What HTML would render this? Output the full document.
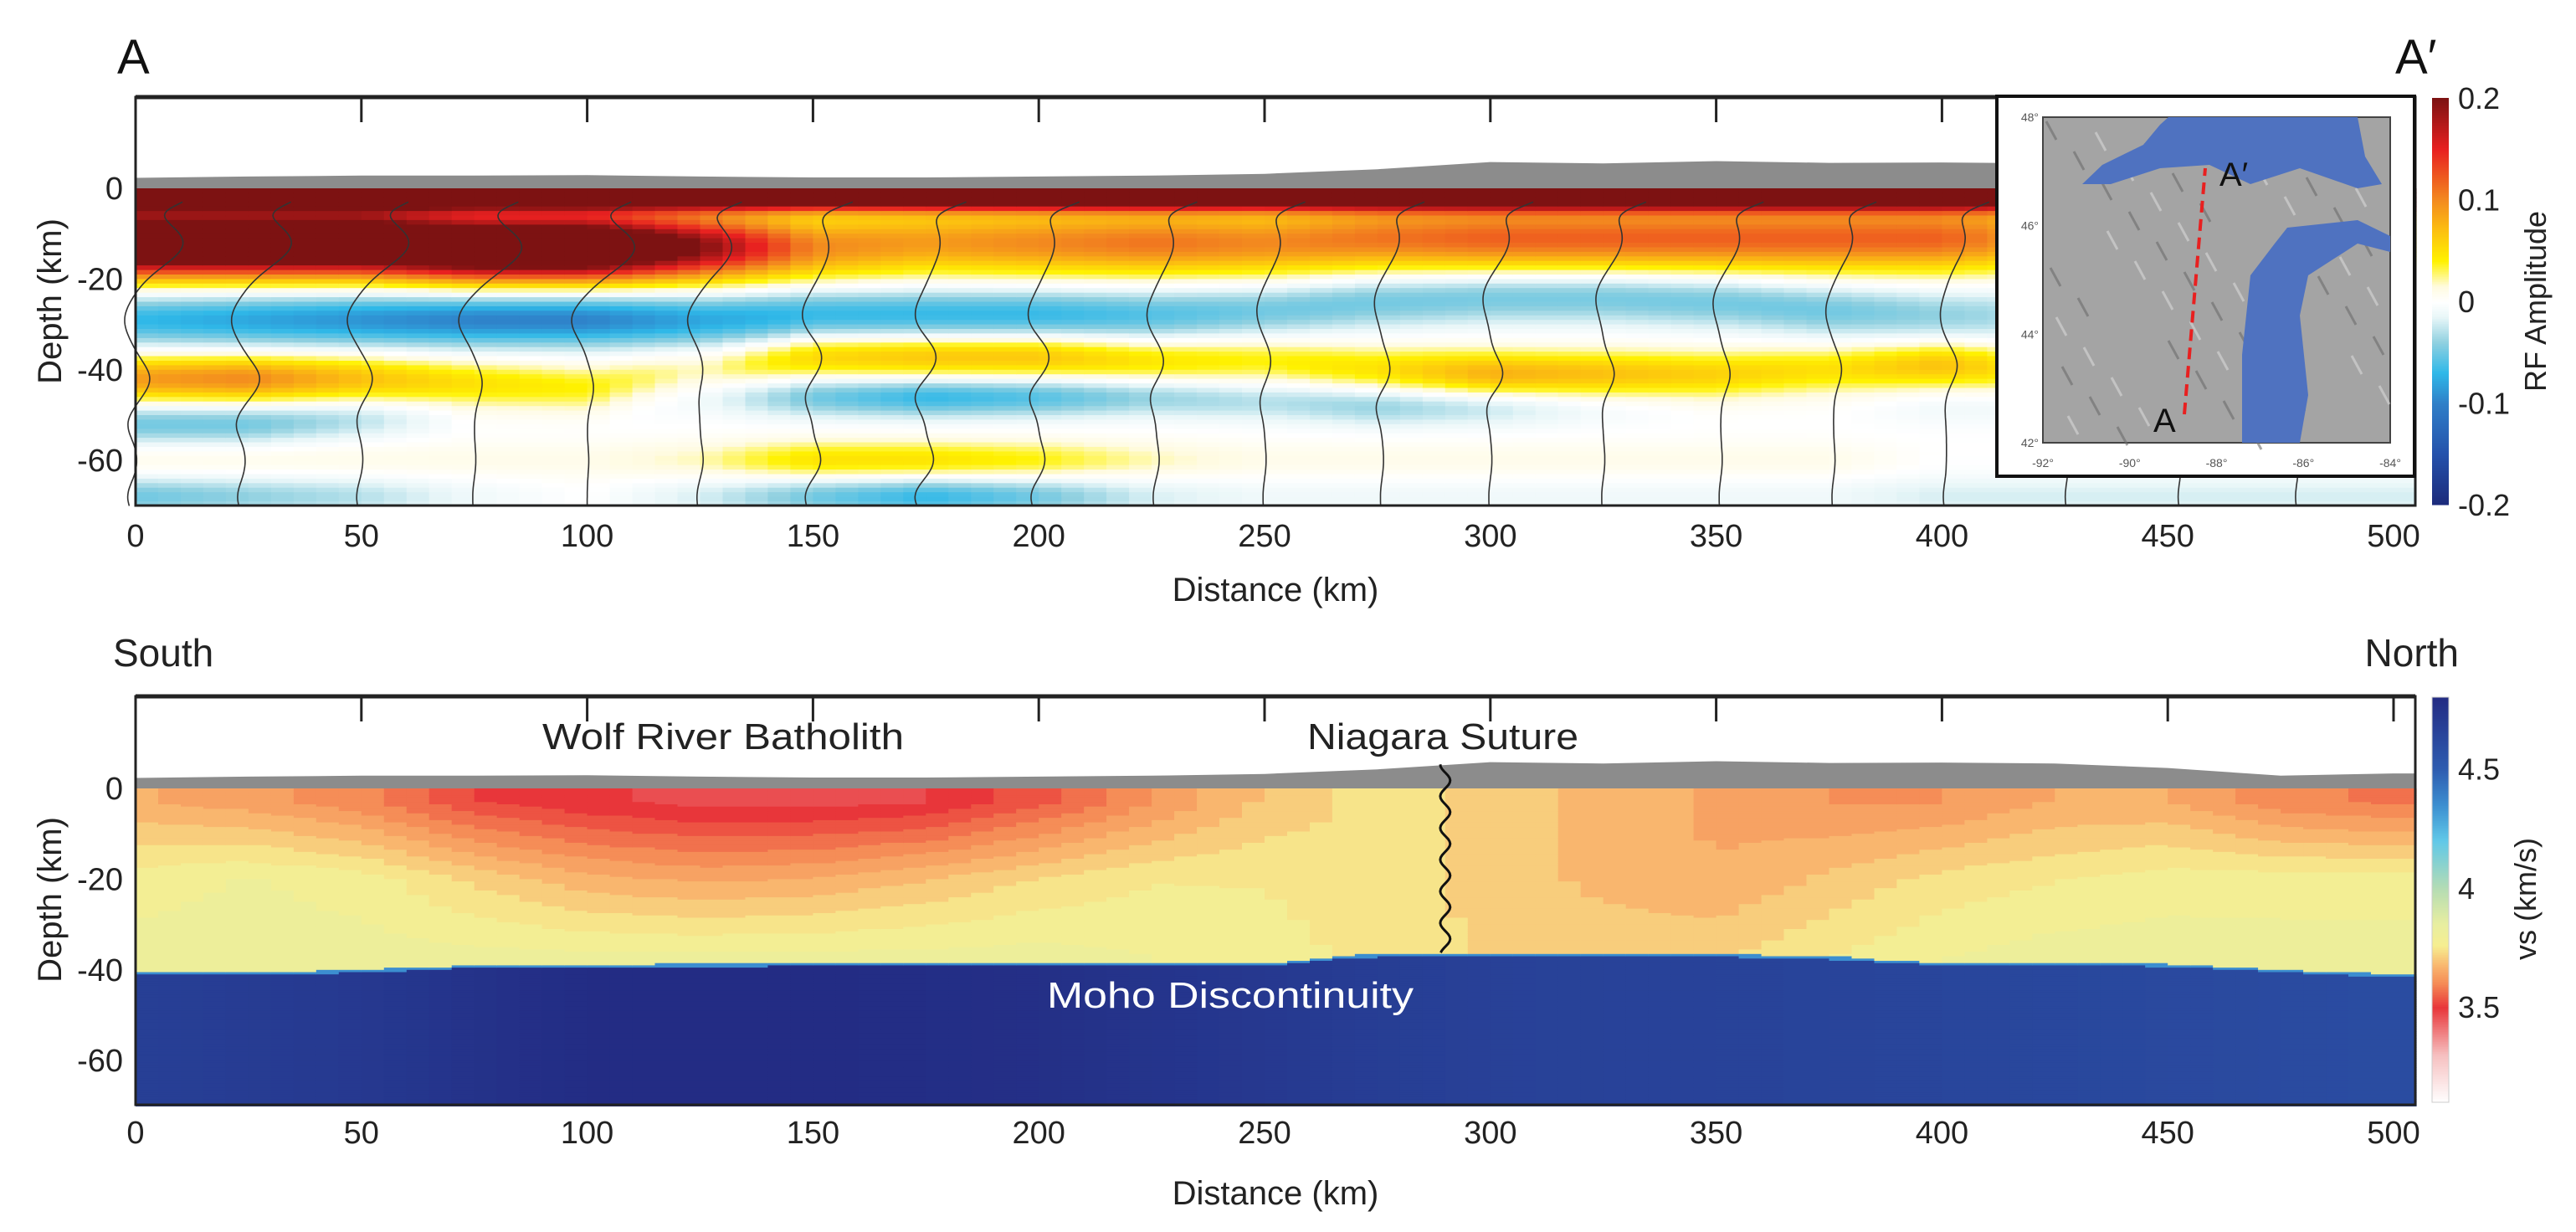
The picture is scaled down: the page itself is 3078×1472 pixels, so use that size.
<!DOCTYPE html>
<html><head><meta charset="utf-8"><style>
html,body{margin:0;padding:0;background:#fff;}
svg{display:block;font-family:"Liberation Sans",sans-serif;}
</style></head><body>
<svg id="fig" width="3078" height="1472" viewBox="0 0 3078 1472" xmlns="http://www.w3.org/2000/svg">
<g id="topPanel"></g>
<g id="botPanel"></g>
</svg>
<script>
// ---------- data ----------
const dist = [0,25,50,75,100,125,150,175,200,225,250,275,300,325,350,375,400,425,450,475,500];
const elevation = [2.3,2.6,2.8,2.8,2.9,2.6,2.4,2.4,2.6,2.8,3.2,4.2,5.8,5.5,6.0,5.6,5.7,5.5,4.5,2.8,3.3];
// RF layers
const surfAmp = [0.3,0.3,0.3,0.3,0.3,0.3,0.3,0.3,0.3,0.3,0.3,0.3,0.3,0.3,0.3,0.3,0.3,0.3,0.3,0.3,0.3];
const posUpperAmp = [0.3,0.3,0.3,0.3,0.3,0.2,0.1,0.09,0.1,0.11,0.1,0.11,0.12,0.12,0.12,0.12,0.12,0.08,0.06,0.05,0.05];
const posUpperDepth = [-12,-12,-12,-13,-13,-13,-13,-12,-12,-12,-12,-11,-11,-11,-11,-11,-11,-11,-11,-11,-11];
const negAmp = [-0.07,-0.08,-0.09,-0.1,-0.1,-0.08,-0.07,-0.07,-0.07,-0.06,-0.05,-0.05,-0.05,-0.05,-0.05,-0.05,-0.04,-0.03,-0.03,-0.03,-0.03];
const negDepth = [-29,-29,-29,-29,-29,-29,-28,-28,-28,-28,-27,-25,-24,-24,-25,-27,-28,-28,-28,-28,-28];
const pos40Amp = [0.09,0.1,0.07,0.05,0.04,0.02,0.06,0.07,0.07,0.05,0.04,0.05,0.08,0.07,0.06,0.05,0.07,0.04,0.02,0.01,0.01];
const pos40Depth = [-42,-42,-42,-43,-44,-40,-37,-37,-37,-38,-38,-40,-41,-41,-41,-40,-39,-40,-40,-40,-40];
const neg50Amp = [-0.05,-0.05,-0.03,0,0,-0.01,-0.05,-0.07,-0.06,-0.04,-0.03,-0.04,-0.03,-0.01,0,0,-0.01,-0.01,0,0,0];
const neg50Depth = [-52,-52,-51,-50,-48,-46,-46,-46,-46,-46,-47,-48,-48,-48,-48,-48,-48,-48,-48,-48,-48];
const pos60Amp = [0.01,0.01,0.01,0.01,0.01,0.02,0.05,0.05,0.04,0.02,0.01,0.01,0.01,0.01,0.01,0.01,0,0,0,0,0];
const neg67Amp = [-0.05,-0.04,-0.03,-0.01,0,-0.02,-0.05,-0.07,-0.05,-0.02,-0.01,-0.01,-0.01,-0.01,-0.01,-0.01,-0.02,-0.02,-0.02,-0.02,-0.02];
const stations = [0,24,50,75,100,125,150,175,200,226,250,276,300,325,351,376,401,428,453,479];
// Vs model
const vsUpper = [3.66,3.64,3.6,3.52,3.49,3.47,3.47,3.48,3.54,3.62,3.7,3.74,3.72,3.68,3.65,3.62,3.62,3.66,3.66,3.6,3.58];
const vsMid = [3.78,3.8,3.78,3.72,3.67,3.65,3.66,3.69,3.73,3.76,3.76,3.74,3.72,3.68,3.66,3.7,3.74,3.76,3.78,3.78,3.78];
const vsLower = [3.82,3.82,3.82,3.82,3.82,3.82,3.82,3.82,3.82,3.8,3.78,3.75,3.72,3.72,3.72,3.76,3.8,3.82,3.82,3.82,3.82];
const vsMantle = [4.68,4.7,4.72,4.76,4.8,4.8,4.8,4.79,4.78,4.75,4.72,4.69,4.67,4.66,4.66,4.65,4.64,4.63,4.62,4.61,4.6];
const mohoDepth = [-40.5,-40.5,-40,-39,-38.8,-38.7,-38.6,-38.6,-38.5,-38.5,-38.5,-36.5,-36.5,-36.5,-36.5,-37,-38.5,-38.5,-38.7,-40,-41];
const xTicks = [0,50,100,150,200,250,300,350,400,450,500];
const yTicks = [0,-20,-40,-60];
const rfTicks = [0.2,0.1,0,-0.1,-0.2];
const vsTicks = [4.5,4,3.5];
const sutureKm = 290;

// ---------- geometry ----------
const X0=162, XPK=5.396, XR=2886;
const xs = km => X0 + km*XPK;
const PY = 5.42;
const yTop = d => 225 - d*PY;
const yBot = d => 942 - d*PY;
const NS='http://www.w3.org/2000/svg';
function mk(tag, attrs, parent){const e=document.createElementNS(NS,tag);for(const k in attrs)e.setAttribute(k,attrs[k]);parent.appendChild(e);return e;}
function interp(arr, km){const i=Math.min(dist.length-2,Math.max(0,Math.floor(km/25)));const t=Math.min(1,Math.max(0,(km-dist[i])/25));return arr[i]*(1-t)+arr[i+1]*t;}
function hex(c){return [parseInt(c.slice(1,3),16),parseInt(c.slice(3,5),16),parseInt(c.slice(5,7),16)];}
function cmap(stops,v){if(v<=stops[0][0])return stops[0][1];if(v>=stops[stops.length-1][0])return stops[stops.length-1][1];
 for(let i=0;i<stops.length-1;i++){if(v>=stops[i][0]&&v<=stops[i+1][0]){const t=(v-stops[i][0])/(stops[i+1][0]-stops[i][0]);const a=hex(stops[i][1]),b=hex(stops[i+1][1]);
 return 'rgb('+a.map((x,j)=>Math.round(x+(b[j]-x)*t)).join(',')+')';}}return stops[0][1];}
const rfStops=[[-0.2,'#1c2a7a'],[-0.15,'#2451ab'],[-0.1,'#2f7fc8'],[-0.07,'#2fb8e8'],[-0.04,'#8fd0e0'],[-0.015,'#e8f6f8'],[0,'#ffffff'],[0.015,'#fffbe0'],[0.04,'#fff200'],[0.07,'#fcc010'],[0.1,'#f38a1f'],[0.15,'#e82020'],[0.2,'#7d1212']];
const vsStops=[[3.1,'#ffffff'],[3.3,'#f6c0c0'],[3.5,'#e8363a'],[3.6,'#f58a55'],[3.68,'#f9b970'],[3.76,'#f6ee90'],[3.85,'#e8eea0'],[4.0,'#b4dcb4'],[4.2,'#60c8e8'],[4.35,'#3c8ed0'],[4.5,'#2e5cb0'],[4.8,'#232c84']];
const gauss=(d,c,s)=>Math.exp(-((d-c)*(d-c))/(2*s*s));
function rfAmp(km,d){
 return interp(surfAmp,km)*gauss(d,-1.5,2.2)+interp(posUpperAmp,km)*gauss(d,interp(posUpperDepth,km),5)
 +interp(negAmp,km)*gauss(d,interp(negDepth,km),4)+interp(pos40Amp,km)*gauss(d,interp(pos40Depth,km),3.5)
 +interp(neg50Amp,km)*gauss(d,interp(neg50Depth,km),3)+interp(pos60Amp,km)*gauss(d,-60,3)+interp(neg67Amp,km)*gauss(d,-68,3);
}
function vsAt(km,d){
 const m=interp(mohoDepth,km);
 if(d<m-0.6) return interp(vsMantle,km);
 if(d<m) return 4.35;
 const u=interp(vsUpper,km),mi=interp(vsMid,km),lo=interp(vsLower,km);
 let v; if(d>-3) v=u; else if(d>-20) v=u+(mi-u)*((-3-d)/17); else v=mi+(lo-mi)*((-20-d)/(-20-m));
 return Math.round(v/0.035)*0.035;
}
const topG=document.getElementById('topPanel'), botG=document.getElementById('botPanel');

function topo(parent, yf){
 let p='M'+xs(0)+','+yf(0);
 for(let i=0;i<dist.length;i++){p+=' L'+xs(Math.min(dist[i],504.8)).toFixed(1)+','+yf(elevation[i]).toFixed(1);}
 p+=' L'+XR+','+yf(elevation[dist.length-1])+' L'+XR+','+yf(0)+' Z';
 const e=mk('path',{d:p,fill:'#8c8c8c'},parent);
 
 
}

// ---------- top panel ----------
const hm=mk('g',{},topG);  
for(let km=0;km<505;km+=5){for(let d=0;d>-70;d-=1){
 const r=mk('rect',{x:xs(km).toFixed(1),y:yTop(d).toFixed(1),width:(5*XPK+0.6).toFixed(1),height:(PY+0.6).toFixed(1),fill:cmap(rfStops,rfAmp(km+2.5,d-0.5))},hm);
 
 
}}
topo(topG,yTop);
const tr=mk('g',{fill:'none',stroke:'#333','stroke-width':1.6},topG);  
stations.forEach(s=>{let p='';for(let d=-3;d>=-70;d-=0.5){const x=xs(s+rfAmp(s,d)*35);p+=(p?' L':'M')+x.toFixed(1)+','+yTop(d).toFixed(1);}
 const e=mk('path',{d:p},tr);  });
const f1=mk('rect',{x:X0,y:116,width:XR-X0,height:488,fill:'none',stroke:'#222','stroke-width':3},topG);  
mk('line',{x1:X0,y1:116,x2:XR,y2:116,stroke:'#222','stroke-width':5},topG);
xTicks.forEach(t=>{ if(t>0&&t<500){const e=mk('line',{x1:xs(t),y1:116,x2:xs(t),y2:146,stroke:'#222','stroke-width':3},topG);}
 const l=mk('text',{x:xs(t),y:653,'font-size':38,'text-anchor':'middle',fill:'#222'},topG); l.textContent=t;  });
yTicks.forEach(t=>{const l=mk('text',{x:147,y:yTop(t)+13,'font-size':38,'text-anchor':'end',fill:'#222'},topG);l.textContent=t;});
let t1=mk('text',{x:1524,y:718,'font-size':40,'text-anchor':'middle',fill:'#222'},topG);t1.textContent='Distance (km)';
t1=mk('text',{x:0,y:0,'font-size':40,'text-anchor':'middle',fill:'#222',transform:'translate(73,360) rotate(-90)'},topG);t1.textContent='Depth (km)';
t1=mk('text',{x:140,y:88,'font-size':58,fill:'#111'},topG);t1.textContent='A';
t1=mk('text',{x:2862,y:88,'font-size':58,fill:'#111'},topG);t1.textContent='A′';
// colorbar RF
const cb=mk('g',{},topG);  
for(let y=117;y<603;y+=2){const v=0.2-(y-117)/486*0.4;mk('rect',{x:2906,y:y,width:20,height:2.5,fill:cmap(rfStops,v)},cb);}
rfTicks.forEach(v=>{const y=117+(0.2-v)/0.4*486;const l=mk('text',{x:2937,y:y+13,'font-size':36,fill:'#222'},cb);l.textContent=v===0?'0':String(v);});
t1=mk('text',{x:0,y:0,'font-size':36,'text-anchor':'middle',fill:'#222',transform:'translate(3042,360) rotate(-90)'},topG);t1.textContent='RF Amplitude';
// inset map
const inset=mk('g',{},topG);  
mk('rect',{x:2386,y:115,width:499,height:454,fill:'#fff',stroke:'#111','stroke-width':4},inset);
mk('rect',{x:2441,y:140,width:415,height:389,fill:'#a4a4a4',stroke:'#444','stroke-width':2},inset);
for(let i=0;i<60;i++){const x=2445+((i*73)%405),y=145+((i*131)%375);mk('line',{x1:x,y1:y,x2:x+12,y2:y+22,stroke:(i%2?'#d8d8d8':'#6c6c6c'),'stroke-width':3,opacity:0.6},inset);}
const sup=mk('polygon',{points:'2591,140 2817,140 2826,187 2846,220 2817,225 2748,201 2689,220 2640,197 2581,201 2522,220 2488,220 2512,197 2561,173 2581,149',fill:'#4f72c0'},inset);
const mich=mk('polygon',{points:'2733,272 2817,263 2856,282 2856,301 2817,291 2758,329 2748,377 2758,472 2748,529 2679,529 2679,424 2689,329 2718,291',fill:'#4f72c0'},inset);
const rl=mk('line',{x1:2610,y1:495,x2:2635,y2:201,stroke:'#e82020','stroke-width':4,'stroke-dasharray':'14,8'},inset);
t1=mk('text',{x:2573,y:516,'font-size':40,fill:'#111'},inset);t1.textContent='A';
t1=mk('text',{x:2652,y:222,'font-size':40,fill:'#111'},inset);t1.textContent='A′';
['48°','46°','44°','42°'].forEach((s,i)=>{const l=mk('text',{x:2436,y:145+i*129.7,'font-size':14,'text-anchor':'end',fill:'#555'},inset);l.textContent=s;});
['-92°','-90°','-88°','-86°','-84°'].forEach((s,i)=>{const l=mk('text',{x:2441+i*103.75,y:558,'font-size':14,'text-anchor':'middle',fill:'#555'},inset);l.textContent=s;});

// ---------- bottom panel ----------
const hm2=mk('g',{},botG);  
for(let km=0;km<505;km+=5){for(let d=0;d>-70;d-=0.5){
 const r=mk('rect',{x:xs(km).toFixed(1),y:yBot(d).toFixed(1),width:(5*XPK+0.6).toFixed(1),height:(PY/2+0.6).toFixed(1),fill:cmap(vsStops,vsAt(km+2.5,d-0.25))},hm2);
 
 
}}
topo(botG,yBot);
let sp='';for(let d=elevation[12]-0.5;d>=interp(mohoDepth,sutureKm);d-=0.5){const x=xs(sutureKm+Math.sin(d*0.9)*1.1);sp+=(sp?' L':'M')+x.toFixed(1)+','+yBot(d).toFixed(1);}
const su=mk('path',{d:sp,fill:'none',stroke:'#111','stroke-width':3},botG);
const f2=mk('rect',{x:X0,y:832,width:XR-X0,height:488,fill:'none',stroke:'#222','stroke-width':3},botG);
mk('line',{x1:X0,y1:832,x2:XR,y2:832,stroke:'#222','stroke-width':5},botG);
xTicks.forEach(t=>{ if(t>0){const e=mk('line',{x1:xs(t),y1:832,x2:xs(t),y2:862,stroke:'#222','stroke-width':3},botG);}
 const l=mk('text',{x:xs(t),y:1366,'font-size':38,'text-anchor':'middle',fill:'#222'},botG);l.textContent=t;});
yTicks.forEach(t=>{const l=mk('text',{x:147,y:yBot(t)+13,'font-size':38,'text-anchor':'end',fill:'#222'},botG);l.textContent=t;});
t1=mk('text',{x:1524,y:1439,'font-size':40,'text-anchor':'middle',fill:'#222'},botG);t1.textContent='Distance (km)';
t1=mk('text',{x:0,y:0,'font-size':40,'text-anchor':'middle',fill:'#222',transform:'translate(73,1075) rotate(-90)'},botG);t1.textContent='Depth (km)';
t1=mk('text',{x:135,y:796,'font-size':46,fill:'#222'},botG);t1.textContent='South';
t1=mk('text',{x:2938,y:796,'font-size':46,'text-anchor':'end',fill:'#222'},botG);t1.textContent='North';
t1=mk('text',{x:864,y:895,'font-size':44,'text-anchor':'middle',fill:'#222',textLength:432,lengthAdjust:'spacingAndGlyphs'},botG);t1.textContent='Wolf River Batholith';
t1=mk('text',{x:1724,y:895,'font-size':44,'text-anchor':'middle',fill:'#222',textLength:324,lengthAdjust:'spacingAndGlyphs'},botG);t1.textContent='Niagara Suture';
t1=mk('text',{x:1470,y:1204,'font-size':44,'text-anchor':'middle',fill:'#fff',textLength:438,lengthAdjust:'spacingAndGlyphs'},botG);t1.textContent='Moho Discontinuity';
const cb2=mk('g',{},botG);
const vTop=4.8,vBotV=3.1,cy0=833,cy1=1317;
for(let y=cy0;y<cy1;y+=2){const v=vTop-(y-cy0)/(cy1-cy0)*(vTop-vBotV);mk('rect',{x:2906,y:y,width:20,height:2.5,fill:cmap(vsStops,v)},cb2);}
mk('rect',{x:2906,y:cy0,width:20,height:cy1-cy0,fill:'none',stroke:'#ccc','stroke-width':1},cb2);
vsTicks.forEach(v=>{const y=cy0+(vTop-v)/(vTop-vBotV)*(cy1-cy0);const l=mk('text',{x:2937,y:y+13,'font-size':36,fill:'#222'},cb2);l.textContent=String(v);});
t1=mk('text',{x:0,y:0,'font-size':36,'text-anchor':'middle',fill:'#222',transform:'translate(3030,1074) rotate(-90)'},botG);t1.textContent='vs (km/s)';
</script>
</body></html>
